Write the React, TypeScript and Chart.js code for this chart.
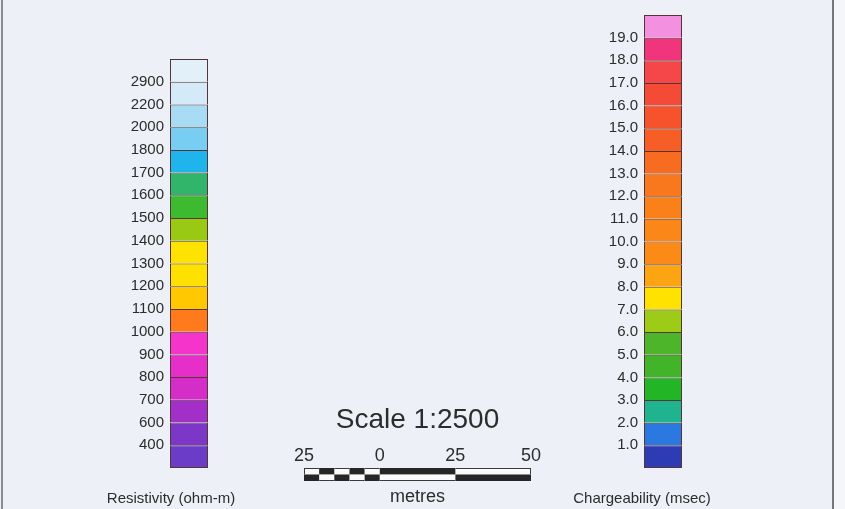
import React, { useEffect, useRef } from 'react';
import { Chart, registerables } from 'chart.js';

Chart.register(...registerables);

// ---------- data ----------
// Resistivity colour bar, boundaries from bottom to top
const resistivityLabels = ['400', '600', '700', '800', '900', '1000', '1100', '1200', '1300', '1400', '1500', '1600', '1700', '1800', '2000', '2200', '2900'];
// class colours from bottom to top (one more than labels)
const resistivityColors = [
  '#6a3cc8', '#7c36c8', '#a22fc8', '#d52dc8', '#e52fc8', '#f434cb',
  '#ff7a1c', '#ffc800', '#ffe100', '#ffe300', '#9ac914', '#3dba30',
  '#30b56a', '#1fb5ec', '#78cdf2', '#a8dcf5', '#d4eaf8', '#e2f0fa',
];

// Chargeability colour bar, boundaries from bottom to top
const chargeabilityLabels = ['1.0', '2.0', '3.0', '4.0', '5.0', '6.0', '7.0', '8.0', '9.0', '10.0', '11.0', '12.0', '13.0', '14.0', '15.0', '16.0', '17.0', '18.0', '19.0'];
const chargeabilityColors = [
  '#2d3cb5', '#2a78e0', '#20b38f', '#22b526', '#42b42a', '#4cb52a',
  '#9ccb18', '#ffe200', '#fca412', '#fb8b16', '#fb8718', '#fa801a',
  '#f9781e', '#f86c22', '#f75e26', '#f6532c', '#f54b36', '#f5464a',
  '#f0357c', '#f490e0',
];

// Scale bar (metres)
const scaleTickValues = [-25, 0, 25, 50];
const scaleTickLabels = ['25', '0', '25', '50'];
const scaleEdges = [-25, -20, -15, -10, -5, 0, 25, 50];
const scaleTopRow = ['white', 'black', 'white', 'black', 'white', 'black', 'white'];
const scaleBottomRow = ['black', 'white', 'black', 'white', 'black', 'white', 'black'];

// ---------- style ----------
const FONT = '"Liberation Sans", Arial, Helvetica, sans-serif';
const TEXT = '#2c2c2c';
const SEG_BORDER = '#553636';
const BG = '#eef0f7';
const SCALE_COLORS: Record<string, string> = { black: '#262626', white: '#fbfbfb' };

function colorBarConfig(
  labels: string[],
  colors: string[],
  title: string,
  topPad: number,
  leftWidth: number,
  rightWidth: number,
): any {
  const n = colors.length;
  return {
    type: 'bar',
    data: {
      labels: [''],
      datasets: colors.map((c, i) => ({
        data: [1],
        backgroundColor: c,
        borderColor: SEG_BORDER,
        borderWidth: 1,
        borderSkipped: i === 0 ? false : 'start',
        barPercentage: 1,
        categoryPercentage: 1,
        inflateAmount: 0,
      })),
    },
    options: {
      responsive: false,
      animation: false,
      events: [],
      layout: { padding: { top: topPad, left: 0, right: 0, bottom: 0 } },
      plugins: {
        legend: { display: false },
        tooltip: { enabled: false },
        title: {
          display: true,
          position: 'bottom',
          text: title,
          color: TEXT,
          font: { family: FONT, size: 15, weight: 'normal' },
          padding: { top: 22, bottom: 1 },
        },
      },
      scales: {
        x: { stacked: true, display: false },
        y: {
          stacked: true,
          position: 'left',
          min: 0,
          max: n,
          grid: { display: false, drawTicks: false },
          border: { display: false },
          ticks: {
            autoSkip: false,
            padding: 6,
            color: TEXT,
            font: { family: FONT, size: 15 },
            callback: (v: number) => labels[Math.round(v) - 1] ?? '',
          },
          afterBuildTicks: (s: any) => {
            s.ticks = labels.map((_, i) => ({ value: i + 1 }));
          },
          afterFit: (s: any) => {
            s.width = leftWidth;
          },
        },
        y2: {
          position: 'right',
          display: true,
          grid: { display: false, drawTicks: false },
          border: { display: false },
          ticks: { display: false },
          afterFit: (s: any) => {
            s.width = rightWidth;
          },
        },
      },
    },
  };
}

function scaleConfig(): any {
  const last = scaleEdges.length - 2;
  return {
    type: 'bar',
    data: {
      labels: ['top', 'bottom'],
      datasets: scaleEdges.slice(0, -1).map((start, i) => ({
        data: [
          [start, scaleEdges[i + 1]],
          [start, scaleEdges[i + 1]],
        ],
        backgroundColor: [SCALE_COLORS[scaleTopRow[i]], SCALE_COLORS[scaleBottomRow[i]]],
        borderColor: '#3a3a3a',
        borderWidth: (ctx: any) => {
          const row = ctx.dataIndex;
          const colour = row === 0 ? scaleTopRow[i] : scaleBottomRow[i];
          if (colour !== 'white') return 0;
          return {
            top: row === 0 ? 1 : 0,
            bottom: row === 1 ? 1 : 0,
            left: i === 0 ? 1 : 0,
            right: i === last ? 1 : 0,
          };
        },
        borderSkipped: false,
        grouped: false,
        barPercentage: 1,
        categoryPercentage: 1,
        inflateAmount: 0,
      })),
    },
    options: {
      indexAxis: 'y',
      responsive: false,
      animation: false,
      events: [],
      layout: { padding: { left: 34, right: 33, top: 0, bottom: 0 } },
      plugins: {
        legend: { display: false },
        tooltip: { enabled: false },
        title: {
          display: true,
          position: 'top',
          text: 'Scale 1:2500',
          color: TEXT,
          font: { family: FONT, size: 28, weight: 'normal' },
          padding: { top: 11.7, bottom: 0 },
        },
        subtitle: {
          display: true,
          position: 'bottom',
          text: 'metres',
          color: TEXT,
          font: { family: FONT, size: 18, weight: 'normal' },
          padding: { top: 5.2, bottom: 1.2 },
        },
      },
      scales: {
        x: {
          type: 'linear',
          position: 'top',
          min: -25,
          max: 50,
          grid: { display: false, drawTicks: false },
          border: { display: false },
          ticks: {
            autoSkip: false,
            maxRotation: 0,
            padding: 1,
            color: TEXT,
            font: { family: FONT, size: 18 },
            callback: (v: number) => {
              const idx = scaleTickValues.indexOf(v);
              return idx >= 0 ? scaleTickLabels[idx] : '';
            },
          },
          afterBuildTicks: (s: any) => {
            s.ticks = scaleTickValues.map((v) => ({ value: v }));
          },
          afterFit: (s: any) => {
            s.height = 30.7;
          },
        },
        y: { display: false },
      },
    },
  };
}

function ChartCanvas({ config, left, top, width, height }: { config: () => any; left: number; top: number; width: number; height: number }) {
  const ref = useRef<HTMLCanvasElement | null>(null);
  useEffect(() => {
    if (!ref.current) return;
    const chart = new Chart(ref.current, config());
    return () => chart.destroy();
  }, []);
  return (
    <canvas
      ref={ref}
      width={width}
      height={height}
      style={{ position: 'absolute', left, top, width, height, display: 'block' }}
    />
  );
}

export default function App() {
  return (
    <div
      style={{
        position: 'absolute',
        left: 0,
        top: 0,
        width: 845,
        height: 509,
        background: BG,
        overflow: 'hidden',
      }}
    >
      {/* frame lines of the scanned sheet */}
      <div style={{ position: 'absolute', left: 1, top: 0, width: 2, height: 509, background: '#8a8c92' }} />
      <div style={{ position: 'absolute', left: 832, top: 0, width: 2, height: 509, background: '#74767c' }} />
      <div style={{ position: 'absolute', left: 834, top: 0, width: 11, height: 509, background: '#f4f6fa' }} />

      <ChartCanvas
        config={() => colorBarConfig(resistivityLabels, resistivityColors, 'Resistivity (ohm-m)', 59, 74, 38)}
        left={96}
        top={0}
        width={150}
        height={509}
      />
      <ChartCanvas
        config={() => colorBarConfig(chargeabilityLabels, chargeabilityColors, 'Chargeability (msec)', 12, 77, 35)}
        left={567}
        top={0}
        width={150}
        height={509}
      />
      <ChartCanvas config={scaleConfig} left={270} top={392} width={294} height={117} />
    </div>
  );
}
